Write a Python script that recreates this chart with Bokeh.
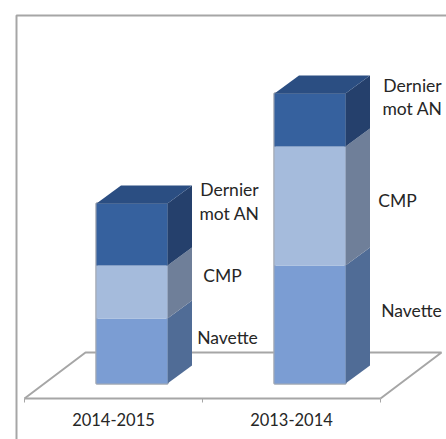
from bokeh.plotting import figure
from bokeh.models import LinearAxis, FixedTicker
from bokeh.core.properties import value
from bokeh.embed import file_html
from bokeh.resources import INLINE
import numpy as np

categories = ["2014-2015", "2013-2014"]
series = ["Navette", "CMP", "Dernier\nmot AN"]
navette = [65, 118]
cmp_vals = [53, 119]
dernier = [62, 53]

front_colors = ["#7b9dd3", "#a5bbdc", "#36619e"]
side_colors = ["#506c96", "#6f7f99", "#25406c"]
top_color = "#2b4e82"
GREY = "#a6a6a6"
TXT = "#262626"
FONT = "Lato"
FS = "17.5px"
FS_AXIS = "16.5px"

W, H = 446, 439
PX = 178.0                 # px per category
X0 = 113.0                 # px of first category on the axis
Y0 = 383.0                 # px of value zero
sx = 1 / PX                # one px in x data units
BAR_SHIFT, BAR_HALF = 18.5 * sx, 35.5 * sx
DX, DY = 24.5 * sx, 18.0


def xpx(px):
    return (px - X0) * sx


def ypx(py):
    return Y0 - py


p = figure(width=W, height=H, output_backend="svg", toolbar_location=None,
           x_range=(xpx(0), xpx(W)), y_range=(ypx(H), ypx(0)),
           min_border=0, outline_line_color=None)
p.grid.visible = False
p.xaxis.visible = False
p.yaxis.visible = False
p.background_fill_color = "white"

FLOOR_Y = ypx(398)
BACK_Y = ypx(352)

# chart border
p.line([xpx(16), xpx(16), xpx(446)], [ypx(439), ypx(15), ypx(15)], line_color=GREY, line_width=2)

# floor
p.line([-0.5, xpx(85), xpx(441), 1.5],
       [FLOOR_Y, BACK_Y, BACK_Y, FLOOR_Y], line_color=GREY, line_width=2)

# stacked 3D bars
stack = np.array([navette, cmp_vals, dernier], dtype=float)
tops = stack.cumsum(axis=0)
bottoms = tops - stack
xc = np.arange(len(categories)) + BAR_SHIFT
xl, xr = xc - BAR_HALF, xc + BAR_HALF

p.quad(left=xl, right=xr, bottom=0, top=tops[-1],
       fill_color=None, line_color="#a3a9b3", line_width=2.5)
for s in range(len(series)):
    p.patches([[x, x + DX, x + DX, x] for x in xr],
              [[b, b + DY, t + DY, t] for b, t in zip(bottoms[s], tops[s])],
              fill_color=side_colors[s], line_color=None)
    p.quad(left=xl, right=xr, bottom=bottoms[s], top=tops[s],
           fill_color=front_colors[s], line_color=None)
p.patches([[a, b, b + DX, a + DX] for a, b in zip(xl, xr)],
          [[t, t, t + DY, t + DY] for t in tops[-1]],
          fill_color=top_color, line_color=None)

# segment labels: where each one sits on the page, per series and category
label_x = [[227, 411], [222, 397], [229, 412]]
label_y = [[[337], [310]], [[275], [200]], [[189, 213], [85, 108]]]
for s, name in enumerate(series):
    lines = name.split("\n")
    for c in range(len(categories)):
        p.text([xpx(label_x[s][c])] * len(lines), [ypx(v) for v in label_y[s][c]],
               text=lines, text_font=value(FONT), text_font_size=FS,
               text_color=TXT, text_align="center", text_baseline="middle")

# category axis drawn on the floor's front edge
ax = LinearAxis(fixed_location=FLOOR_Y, bounds=(-0.5, 1.5))
ax.ticker = FixedTicker(ticks=list(range(len(categories))), minor_ticks=[-0.5, 0.5, 1.5])
ax.major_label_overrides = {i: c for i, c in enumerate(categories)}
ax.major_tick_line_color = None
ax.major_tick_out = 0
ax.major_tick_in = 0
ax.minor_tick_out = 4
ax.minor_tick_in = 0
ax.minor_tick_line_color = GREY
ax.minor_tick_line_width = 1
ax.axis_line_color = GREY
ax.axis_line_width = 2
ax.major_label_standoff = 10
ax.major_label_text_font = FONT
ax.major_label_text_font_size = FS_AXIS
ax.major_label_text_color = TXT
p.add_layout(ax, "below")

open("out.html", "w").write(file_html(p, INLINE))
